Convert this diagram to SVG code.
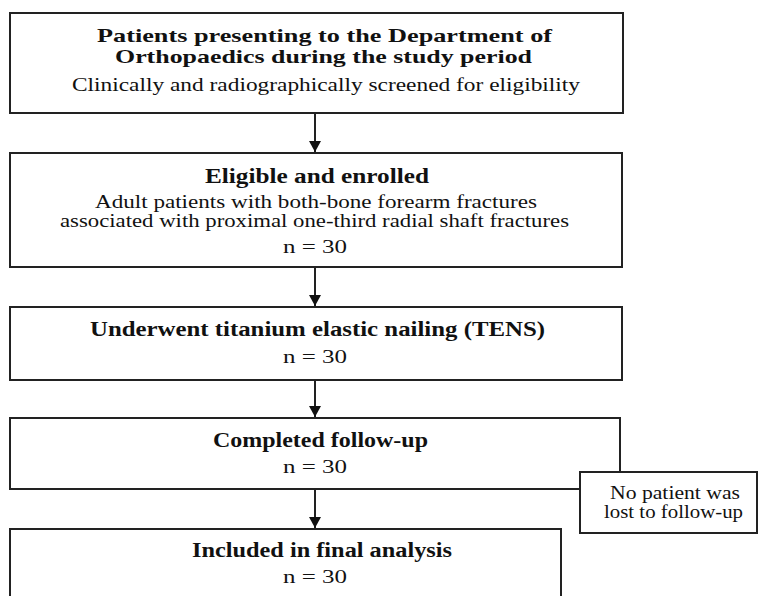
<svg xmlns="http://www.w3.org/2000/svg" width="759" height="596" viewBox="0 0 759 596">
<style>
.box{fill:#fff;stroke:#222;stroke-width:2}
.t{font-family:"Liberation Serif","Times New Roman",serif;font-weight:bold;font-size:20px;fill:#111;text-anchor:middle}
.t2{font-size:19px}
.r{font-family:"Liberation Serif","Times New Roman",serif;font-size:18px;fill:#111;text-anchor:middle}
.c{stroke:#222;stroke-width:2;fill:none}
</style>
<defs>
<marker id="ah" markerWidth="12" markerHeight="12" refX="11" refY="6" orient="auto" markerUnits="userSpaceOnUse">
<path d="M0,0 L11,6 L0,12 Z" fill="#111"/>
</marker>
</defs>
<rect width="759" height="596" fill="#fff"/>
<g id="connectors">
<line class="c" x1="315" y1="113" x2="315" y2="152" marker-end="url(#ah)"/>
<line class="c" x1="315" y1="267" x2="315" y2="306" marker-end="url(#ah)"/>
<line class="c" x1="315" y1="380" x2="315" y2="417" marker-end="url(#ah)"/>
<line class="c" x1="315" y1="489" x2="315" y2="528" marker-end="url(#ah)"/>
</g>
<g id="n1">
<rect class="box" x="10" y="13" width="613" height="100"/>
<text class="t t2" x="324.5" y="42" textLength="455" lengthAdjust="spacingAndGlyphs">Patients presenting to the Department of</text>
<text class="t t2" x="323.5" y="62.5" textLength="417" lengthAdjust="spacingAndGlyphs">Orthopaedics during the study period</text>
<text class="r" x="326" y="91" textLength="508" lengthAdjust="spacingAndGlyphs">Clinically and radiographically screened for eligibility</text>
</g>
<g id="n2">
<rect class="box" x="10" y="153" width="612" height="114"/>
<text class="t" x="317" y="183" textLength="224" lengthAdjust="spacingAndGlyphs">Eligible and enrolled</text>
<text class="r" x="316" y="208" textLength="442" lengthAdjust="spacingAndGlyphs">Adult patients with both-bone forearm fractures</text>
<text class="r" x="314.5" y="227" textLength="509" lengthAdjust="spacingAndGlyphs">associated with proximal one-third radial shaft fractures</text>
<text class="r" x="315" y="253" textLength="64" lengthAdjust="spacingAndGlyphs">n = 30</text>
</g>
<g id="n3">
<rect class="box" x="10" y="307" width="612" height="73"/>
<text class="t" x="317.5" y="336" textLength="455" lengthAdjust="spacingAndGlyphs">Underwent titanium elastic nailing (TENS)</text>
<text class="r" x="315" y="363" textLength="64" lengthAdjust="spacingAndGlyphs">n = 30</text>
</g>
<g id="n4">
<rect class="box" x="10" y="418" width="610" height="71"/>
<text class="t" x="320.5" y="447" textLength="215" lengthAdjust="spacingAndGlyphs">Completed follow-up</text>
<text class="r" x="315" y="473" textLength="64" lengthAdjust="spacingAndGlyphs">n = 30</text>
</g>
<g id="n6">
<rect class="box" x="580" y="472" width="177" height="61"/>
<text class="r" x="675" y="499" textLength="130" lengthAdjust="spacingAndGlyphs">No patient was</text>
<text class="r" x="673.5" y="518" textLength="139" lengthAdjust="spacingAndGlyphs">lost to follow-up</text>
</g>
<g id="n5">
<rect class="box" x="10" y="529" width="551" height="80"/>
<text class="t" x="322" y="557" textLength="260" lengthAdjust="spacingAndGlyphs">Included in final analysis</text>
<text class="r" x="315" y="583" textLength="64" lengthAdjust="spacingAndGlyphs">n = 30</text>
</g>
</svg>
